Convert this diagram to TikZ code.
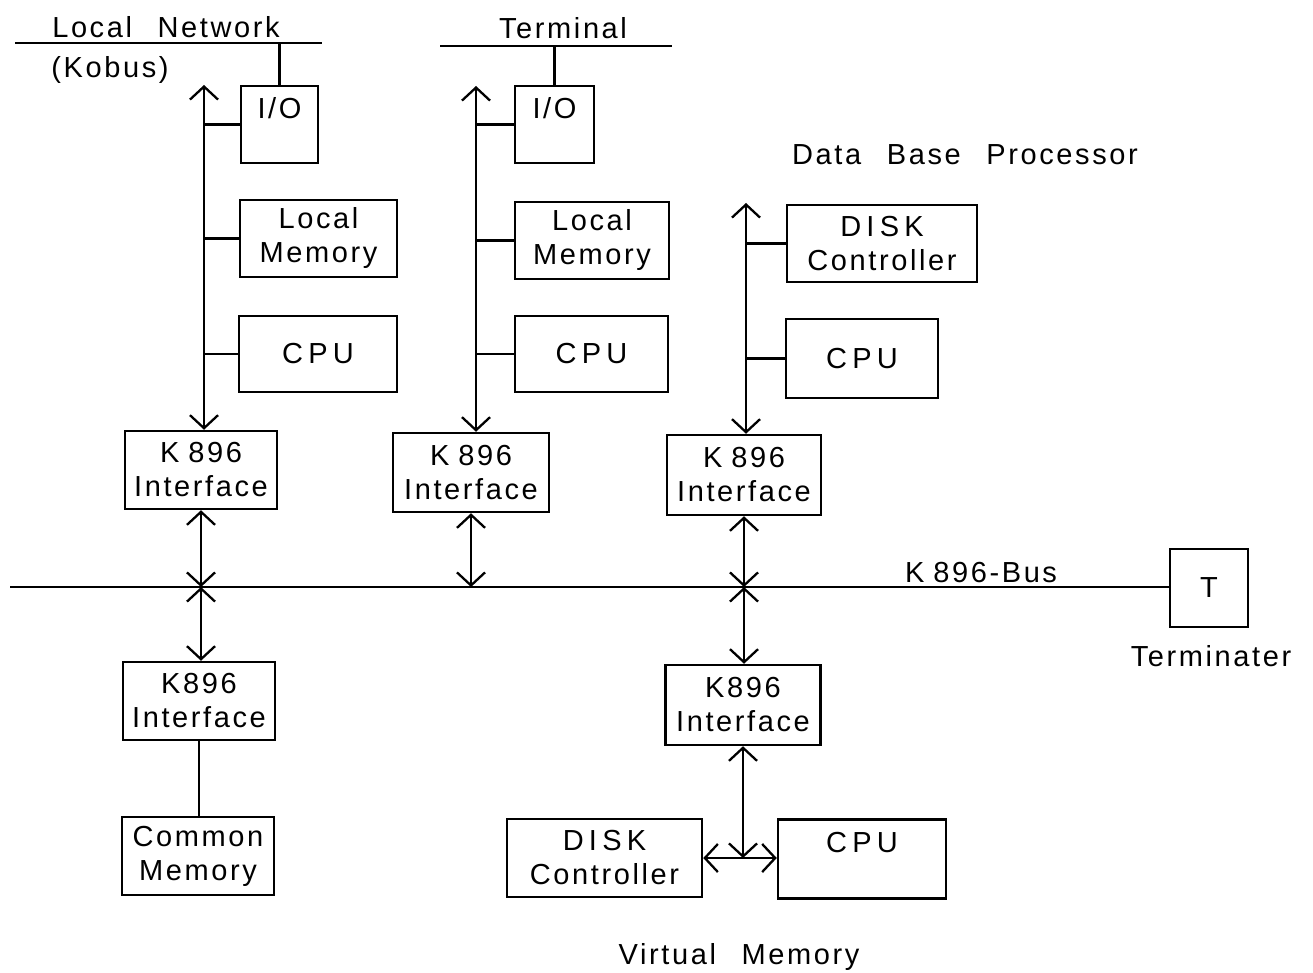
\documentclass[tikz,border=0pt]{standalone}
\usepackage{fontspec}
\setmainfont{Liberation Sans}[LetterSpace=9,WordSpace=2.4]
\usetikzlibrary{arrows.meta}
% wide spacing for short capitalised words
\newcommand{\wide}[1]{{\addfontfeature{LetterSpace=18}#1}}
% narrow gap inside the bus name
\newcommand{\kgap}{\kern9pt}

\begin{document}
\begin{tikzpicture}[x=1pt,y=-1pt,
  every node/.style={font=\fontsize{29}{34}\selectfont},
  box/.style={draw, line width=2.5pt, align=center, inner sep=0pt},
  wire/.style={line width=2.3pt},
  barb/.tip={Straight Barb[length=13pt,width=28pt]},
  biarrow/.style={wire, barb-barb}]
\useasboundingbox (0,0) rectangle (1313,973);

% ---- processor boards ----
\node[box, minimum width=77pt,  minimum height=77pt] (io1)  at (279.5,124.5) {I/O\\~};
\node[box, minimum width=157pt, minimum height=77pt] (lm1)  at (318.5,238.5) {Local\\Memory};
\node[box, minimum width=158pt, minimum height=76pt] (cpu1) at (318,354)     {\wide{CPU}};
\node[box, minimum width=152pt, minimum height=78pt] (k1)   at (201,470)     {K\kgap 896\\Interface};

\node[box, minimum width=79pt,  minimum height=77pt] (io2)  at (554.5,124.5) {I/O\\~};
\node[box, minimum width=154pt, minimum height=77pt] (lm2)  at (592,240.5)   {Local\\Memory};
\node[box, minimum width=153pt, minimum height=76pt] (cpu2) at (591.5,354)   {\wide{CPU}};
\node[box, minimum width=156pt, minimum height=79pt] (k3)   at (471,472.5)   {K\kgap 896\\Interface};

\node[box, minimum width=190pt, minimum height=77pt] (dc1)  at (882,243.5)   {\wide{DISK}\\Controller};
\node[box, minimum width=152pt, minimum height=79pt] (cpu3) at (862,358.5)   {\wide{CPU}};
\node[box, minimum width=154pt, minimum height=80pt] (k4)   at (744,475)     {K\kgap 896\\Interface};

% ---- common memory ----
\node[box, minimum width=152pt, minimum height=78pt] (k2)   at (199,701)     {K896\\Interface};
\node[box, minimum width=152pt, minimum height=78pt] (cm)   at (198,856)     {Common\\Memory};

% ---- virtual memory ----
\node[box, minimum width=155pt, minimum height=80pt] (k5)   at (743,705)     {K896\\Interface};
\node[box, minimum width=195pt, minimum height=78pt] (dc2)  at (604.5,858)   {\wide{DISK}\\Controller};
\node[box, minimum width=168pt, minimum height=79pt] (cpu4) at (862,859)     {\wide{CPU}\\~};

% ---- terminator ----
\node[box, minimum width=78pt, minimum height=78pt] (T) at (1209,588) {T};

% ---- labels ----
\node (lnet)  at (166,27)  {Local Network};
\node (kobus) at (110,70)  {(Kobus)};
\node (term)  at (563,28)  {Terminal};
\node (dbp)   at (965,155) {Data Base Processor};
\node (kbus)  at (981,573) {K\kgap 896-Bus};
\node (tname) at (1211,656) {Terminater};
\node (vmem)  at (739,957) {Virtual Memory};

% ---- external lines ----
\coordinate (ln1) at (15,43);
\coordinate (ln2) at (322,43);
\draw[wire] (ln1) -- (ln2);
\draw[wire] (io1.north) -- (io1.north |- ln1);
\coordinate (tl1) at (440,46);
\coordinate (tl2) at (672,46);
\draw[wire] (tl1) -- (tl2);
\draw[wire] (io2.north) -- (io2.north |- tl1);

% ---- local buses ----
\coordinate (t1) at (204,85);
\draw[biarrow] (t1) -- (t1 |- k1.north);
\foreach \n in {io1,lm1,cpu1} \draw[wire] (t1 |- \n.west) -- (\n.west);

\coordinate (t2) at (476,86);
\draw[biarrow] (t2) -- (t2 |- k3.north);
\foreach \n in {io2,lm2,cpu2} \draw[wire] (t2 |- \n.west) -- (\n.west);

\coordinate (t3) at (746,203);
\draw[biarrow] (t3) -- (t3 |- k4.north);
\foreach \n in {dc1,cpu3} \draw[wire] (t3 |- \n.west) -- (\n.west);

% ---- K896 bus ----
\coordinate (bus0) at (10,587);
\draw[wire] (bus0) -- (bus0 -| T.west);

\draw[biarrow] (k1.south) -- (k1.south |- bus0);
\draw[biarrow] (k1.south |- bus0) -- (k1.south |- k2.north);
\draw[wire] (k2.south) -- (k2.south |- cm.north);

\draw[biarrow] (k3.south) -- (k3.south |- bus0);

\draw[biarrow] (k4.south) -- (k4.south |- bus0);
\draw[biarrow] (k4.south |- bus0) -- (k4.south |- k5.north);

\coordinate (j) at (k5.south |- dc2.east);
\draw[biarrow] (k5.south) -- (j);
\draw[biarrow] (dc2.east) -- (dc2.east -| cpu4.west);
\end{tikzpicture}
\end{document}
